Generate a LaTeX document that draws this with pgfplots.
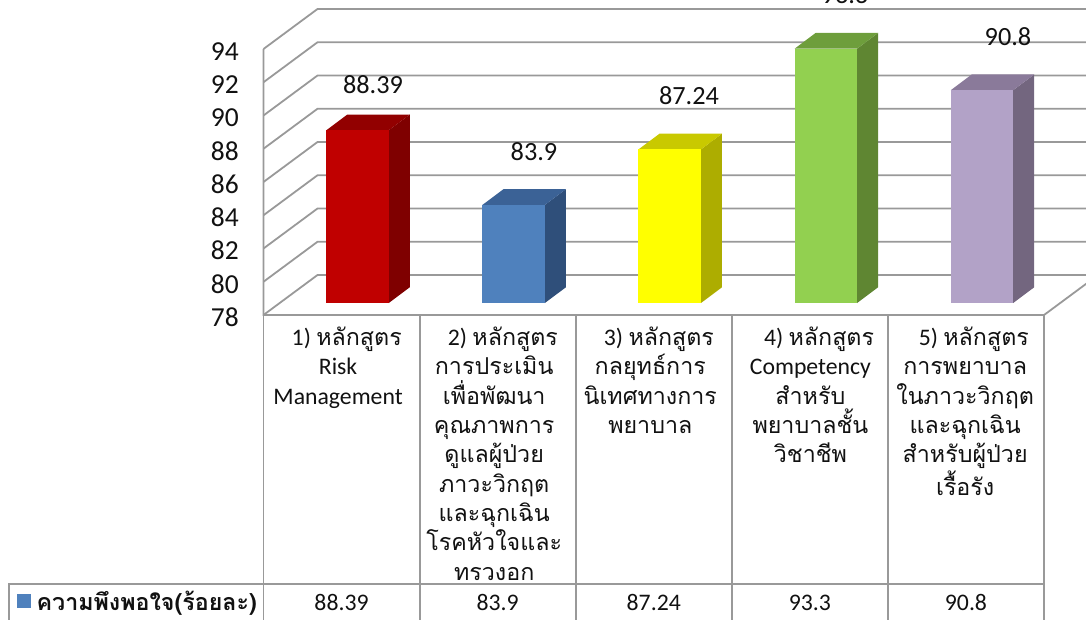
\documentclass[border=0pt]{standalone}
\usepackage{fontspec}
\setmainfont{Carlito}
\newfontfamily\thaifont[Script=Thai,Scale=0.98]{Loma}
\newcommand{\T}[1]{{\thaifont #1}}
\usepackage{pgfplots}
\pgfplotsset{compat=1.18}
\definecolor{gridc}{HTML}{999999}
\definecolor{txtc}{HTML}{111111}
\begin{document}
\begin{tikzpicture}
\path[use as bounding box,clip] (-197.625pt,-228pt) rectangle (616.875pt,236.25pt);
\begin{axis}[
  at={(0pt,0pt)},anchor=south west,
  scale only axis,width=585.4pt,height=199.5pt,
  xmin=-0.5,xmax=4.5,ymin=78,ymax=94,
  clip=false,no markers,
  axis line style={draw=none},
  major tick length=0pt,
  ytick={78,80,82,84,86,88,90,92,94},
  xtick={0,1,2,3,4},
  /pgf/number format/assume math mode=true,
  y tick label style={font=\fontsize{20.6pt}{22pt}\selectfont,text=txtc,xshift=-15pt,yshift=-1.6pt},
  x tick label style={font=\fontsize{17.8pt}{22pt}\selectfont,text=txtc,anchor=north,align=center,yshift=-5.5pt,xshift=-2.6pt},
  xticklabels={
   {\hspace*{13pt}1) \T{หลักสูตร}\\Risk\\Management},
   {\hspace*{13pt}2) \T{หลักสูตร}\\\T{การประเมิน}\\\T{เพื่อพัฒนา}\\\T{คุณภาพการ}\\\T{ดูแลผู้ป่วย}\\\T{ภาวะวิกฤต}\\\T{และฉุกเฉิน}\\\T{โรคหัวใจและ}\\\T{ทรวงอก}},
   {\hspace*{13pt}3) \T{หลักสูตร}\\\T{กลยุทธ์การ}\\\T{นิเทศทางการ}\\\T{พยาบาล}},
   {\hspace*{19pt}4) \T{หลักสูตร}\\\hspace*{6pt}Competency\\\hspace*{6pt}\T{สำหรับ}\\\hspace*{6pt}\T{พยาบาลชั้น}\\\hspace*{6pt}\T{วิชาชีพ}},
   {\hspace*{17pt}5) \T{หลักสูตร}\\\hspace*{4pt}\T{การพยาบาล}\\\hspace*{4pt}\T{ในภาวะวิกฤต}\\\hspace*{4pt}\T{และฉุกเฉิน}\\\hspace*{4pt}\T{สำหรับผู้ป่วย}\\\hspace*{4pt}\T{เรื้อรัง}}
  },
]
% walls and gridlines
\addplot[gridc,line width=1.35pt] coordinates {(-0.5,78)(-0.154,80.406)(4.846,80.406)};
\addplot[gridc,line width=1.35pt] coordinates {(-0.5,80)(-0.154,82.406)(4.846,82.406)};
\addplot[gridc,line width=1.35pt] coordinates {(-0.5,82)(-0.154,84.406)(4.846,84.406)};
\addplot[gridc,line width=1.35pt] coordinates {(-0.5,84)(-0.154,86.406)(4.846,86.406)};
\addplot[gridc,line width=1.35pt] coordinates {(-0.5,86)(-0.154,88.406)(4.846,88.406)};
\addplot[gridc,line width=1.35pt] coordinates {(-0.5,88)(-0.154,90.406)(4.846,90.406)};
\addplot[gridc,line width=1.35pt] coordinates {(-0.5,90)(-0.154,92.406)(4.846,92.406)};
\addplot[gridc,line width=1.35pt] coordinates {(-0.5,92)(-0.154,94.406)(4.846,94.406)};
\addplot[gridc,line width=1.35pt] coordinates {(-0.5,94)(-0.154,96.406)(4.846,96.406)};
\addplot[gridc,line width=1.35pt] coordinates {(-0.5,94)(-0.5,78)(4.5,78)(4.846,80.406)};
% table rules
\addplot[gridc,line width=1.35pt] coordinates {(-0.5,78)(-0.5,59.6)};
\addplot[gridc,line width=1.35pt] coordinates {(0.5,78)(0.5,59.6)};
\addplot[gridc,line width=1.35pt] coordinates {(1.5,78)(1.5,59.6)};
\addplot[gridc,line width=1.35pt] coordinates {(2.5,78)(2.5,59.6)};
\addplot[gridc,line width=1.35pt] coordinates {(3.5,78)(3.5,59.6)};
\addplot[gridc,line width=1.35pt] coordinates {(4.5,78)(4.5,59.6)};
\addplot[gridc,line width=1.35pt] coordinates {(-2.128,59.6)(-2.128,61.82)(4.5,61.82)};
% bars: side faces, top faces, front faces
\addplot[draw=none,xshift=12pt,yshift=9pt,fill={rgb,255:red,127;green,0;blue,0}] coordinates {(0.2,78)(0.3345,78.945)(0.3345,89.335)(0.2,88.39)};
\addplot[draw=none,xshift=12pt,yshift=9pt,fill={rgb,255:red,146;green,0;blue,0}] coordinates {(-0.2,88.39)(-0.0655,89.335)(0.3345,89.335)(0.2,88.39)};
\addplot[ybar,bar width=46.9pt,bar shift=0pt,draw=none,xshift=12pt,yshift=9pt,fill={rgb,255:red,192;green,0;blue,0}] coordinates {(0,88.39)};
\addplot[draw=none,xshift=12pt,yshift=9pt,fill={rgb,255:red,47;green,79;blue,122}] coordinates {(1.2,78)(1.3345,78.945)(1.3345,84.845)(1.2,83.9)};
\addplot[draw=none,xshift=12pt,yshift=9pt,fill={rgb,255:red,59;green,98;blue,150}] coordinates {(0.8,83.9)(0.9345,84.845)(1.3345,84.845)(1.2,83.9)};
\addplot[ybar,bar width=46.9pt,bar shift=0pt,draw=none,xshift=12pt,yshift=9pt,fill={rgb,255:red,79;green,129;blue,189}] coordinates {(1,83.9)};
\addplot[draw=none,xshift=12pt,yshift=9pt,fill={rgb,255:red,173;green,173;blue,0}] coordinates {(2.2,78)(2.3345,78.945)(2.3345,88.185)(2.2,87.24)};
\addplot[draw=none,xshift=12pt,yshift=9pt,fill={rgb,255:red,201;green,201;blue,0}] coordinates {(1.8,87.24)(1.9345,88.185)(2.3345,88.185)(2.2,87.24)};
\addplot[ybar,bar width=46.9pt,bar shift=0pt,draw=none,xshift=12pt,yshift=9pt,fill={rgb,255:red,255;green,255;blue,0}] coordinates {(2,87.24)};
\addplot[draw=none,xshift=12pt,yshift=9pt,fill={rgb,255:red,95;green,134;blue,50}] coordinates {(3.2,78)(3.3345,78.945)(3.3345,94.245)(3.2,93.3)};
\addplot[draw=none,xshift=12pt,yshift=9pt,fill={rgb,255:red,110;green,158;blue,60}] coordinates {(2.8,93.3)(2.9345,94.245)(3.3345,94.245)(3.2,93.3)};
\addplot[ybar,bar width=46.9pt,bar shift=0pt,draw=none,xshift=12pt,yshift=9pt,fill={rgb,255:red,146;green,208;blue,80}] coordinates {(3,93.3)};
\addplot[draw=none,xshift=12pt,yshift=9pt,fill={rgb,255:red,115;green,102;blue,127}] coordinates {(4.2,78)(4.3345,78.945)(4.3345,91.745)(4.2,90.8)};
\addplot[draw=none,xshift=12pt,yshift=9pt,fill={rgb,255:red,138;green,122;blue,154}] coordinates {(3.8,90.8)(3.9345,91.745)(4.3345,91.745)(4.2,90.8)};
\addplot[ybar,bar width=46.9pt,bar shift=0pt,draw=none,xshift=12pt,yshift=9pt,fill={rgb,255:red,178;green,162;blue,199}] coordinates {(4,90.8)};
% data labels
\tikzset{dl/.style={font=\fontsize{19.7pt}{22pt}\selectfont,text=txtc,inner sep=0pt},
         tv/.style={font=\fontsize{17.8pt}{22pt}\selectfont,text=txtc,inner sep=0pt}}
\node[dl] at (axis cs:0.2015,91.83) {88.39};
\node[dl] at (axis cs:1.233,87.80) {83.9};
\node[dl] at (axis cs:2.226,91.17) {87.24};
\node[dl] at (axis cs:3.225,97.22) {93.3};
\node[dl] at (axis cs:4.269,94.72) {90.8};
% data-table row
\node[tv] at (axis cs:0,60.68) {88.39};
\node[tv] at (axis cs:1,60.68) {83.9};
\node[tv] at (axis cs:2,60.68) {87.24};
\node[tv] at (axis cs:3,60.68) {93.3};
\node[tv] at (axis cs:4,60.68) {90.8};
\fill[fill={rgb,255:red,79;green,129;blue,189}] (axis cs:-2.077,61.2) rectangle (axis cs:-1.987,60.36);
\node[tv,anchor=west] at (axis cs:-1.955,60.68) {\fontsize{17.8pt}{22pt}\selectfont\thaifont\bfseries ความพึงพอใจ(ร้อยละ)};
\end{axis}
\end{tikzpicture}
\end{document}
